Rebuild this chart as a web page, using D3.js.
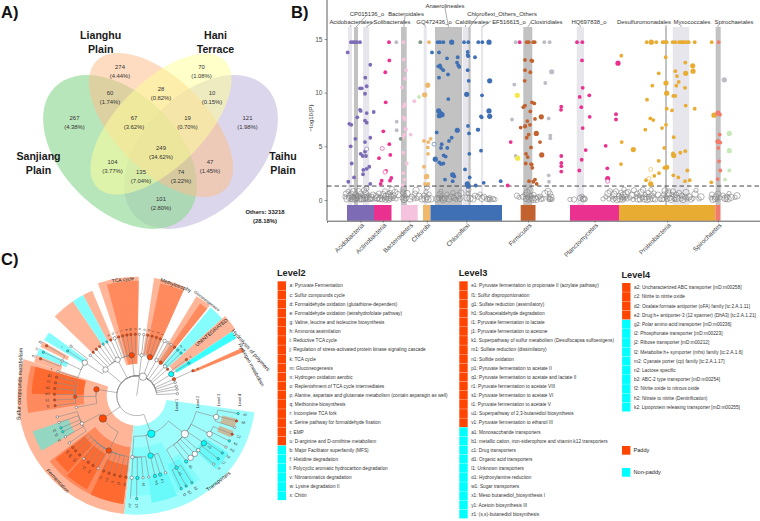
<!DOCTYPE html>
<html><head><meta charset="utf-8">
<script src="https://cdn.jsdelivr.net/npm/d3@7/dist/d3.min.js"></script>
<style>html,body{margin:0;padding:0;background:#fff}svg{display:block;font-family:"Liberation Sans",Arial,sans-serif}</style>
</head><body><svg id="c" width="760" height="521"></svg>
<script>
/* ---------- A) Venn data ---------- */
const vennSets = ["Sanjiang Plain","Taihu Plain","Lianghu Plain","Hani Terrace"];
const vennCounts = [274,70,60,28,10,267,67,19,121,249,104,135,74,47,101];
const vennPercents = ["4.44","1.08","1.74","0.82","0.15","4.38","3.62","0.70","1.98","34.62","3.77","7.04","3.22","1.45","2.80"];
const othersCount = 33218, othersPercent = "28.18";

/* ---------- B) Manhattan data ---------- */
const phyla = ["Acidobacteria","Actinobacteria","Bacteroidetes","Chlorobi","Chloroflexi","Firmicutes","Planctomycetes","Proteobacteria","Spirochaetes"];
const phylaStart = [20,47,74,96,103.5,193.7,243,292,388.3];
const phylaEnd = [47,64.5,90.7,103.5,175,208.5,292,388.3,393.5];
const orders = ["Acidobacteriales","CP015136_o","Solibacterales","Bacteroidales","GQ472436_o","Anaerolineales","Caldilineales","Chloroflexi_Others_Others","EF516615_o","Clostridiales","HQ697838_o","Desulfuromonadales","Myxococcales","Spirochaetales"];
const orderStart = [21,27,36,74,96.7,108,135.7,141.3,154,196.3,249.7,338,345.7,388.7];
const orderEnd = [25,31,42.3,79.7,99.7,135,141.3,143.7,156,205.3,257,340,362.3,393.7];
const orderEnriched = [0,1,0,1,0,1,0,1,0,1,0,1,0,1];
const yTicks = [0,5,10,15];
const threshold = 1.3;

const acidobacteria = [[24,14.7],[26,14.7],[28,14.7],[30,14.7],[33,14.7],[20.7,13.75],[43.3,12.6],[38.3,11.4],[33,10.4],[34.7,10.4],[39.7,10.6],[38,9.9],[33,8.4],[33.7,8.3],[39.7,8.1],[46.7,8.2],[30.3,7.7],[38,7.4],[39.7,7.2],[22.3,7.1],[24.3,7],[28.3,5.7],[43.3,5.8],[38,5.4],[23.7,5],[38,4.5],[33.7,4.3],[35.7,4.1],[39,4.1],[24.7,3.4],[42.3,3.1],[39.7,2.9],[36.3,2.8],[36,2.4],[27,2.1],[21.3,1.7],[43.3,1.5]];
const actinobacteria = [[62,14.7],[62.3,13],[58.3,11.9],[58.7,9.1],[56.3,6.4],[62.3,5.2],[52,3.9],[63.3,4.2],[59,2.7],[64.3,2.05],[63,1.8],[54.7,1.8],[53.7,1.5],[180.7,1.35],[183.7,5.4],[192.7,14.7]];
const bacteroidetes = [[76.3,14.7],[76.7,13.1],[79,12.1],[78,11.3],[75,10.5],[87.3,9.2],[77.7,8.9],[76.7,8.7],[76.7,7.7],[77.7,7.5],[78.3,6.6],[79,6.6],[77.3,6.1],[75.7,5.8],[83.7,6.1],[76.3,4.4],[79.7,3.4],[76.3,2.5],[77.3,1.9],[75.7,1.4]];
const chlorobi = [[102,14.7],[100.7,10.7,1],[97.7,9.8,1],[97,5.5],[101.3,5.4],[103.7,5.7],[100.7,4.9],[101,4.3],[97,3.1],[99.7,2.2,1],[98.7,2.1],[98,1.5],[101.3,1.5]];
const chloroflexi = [[110.7,14.7],[113,14.7],[116.3,14.7],[124.7,14.7,1],[137,14.7],[141.3,14.7],[151.3,14.7],[155.3,14.7],[162,14.7,1],[105,13.75],[112,13.75],[140.7,13.8],[140.7,13.5],[141.3,13.4],[148,13.3],[120,13.2],[130.7,13.3],[130,12.8],[131.3,12.55],[132.3,12.4],[111.3,12.45],[113,12.55],[114,12.3],[116.3,12.1],[140.7,12.1],[121,11.7],[112,11.4],[141.7,11.1],[162.7,11.1,1],[139.7,9.85,1],[155,9.75],[121.3,9.4],[162,8.3,1],[162.7,7.8,1],[111.7,8.3,1],[113.7,8.05,1],[115,7.95,1],[112.3,7.85,1],[154,7.8],[154.7,7.7],[141,6.9],[130.3,6.5,1],[109.7,6.3],[142,6.2],[151.3,6.55],[150.7,6.55],[124.7,5.8],[122,5.5],[114.7,5.2],[114,4.85],[120.3,4.85],[154,4.6],[142.3,4.3],[116.7,4.15],[118.7,4.05],[108.3,3.8,1],[112.3,3.5],[114,3.35],[116.3,3.4],[138,2.85],[125.7,2.35,1],[127.3,2.2],[118,1.9],[142.7,2.1],[125.7,1.75],[173.7,1.75],[156.7,1.6],[140.3,1.5,1],[141.3,1.3,1],[148.7,1.35]];
const firmicutes = [[199.7,14.7],[201.7,14.7],[206.3,14.7],[207.7,14.7],[198,13.05],[205.3,12.95],[204.3,13],[203.3,11.9],[198,12.1],[197.7,11.1],[205,9.1],[198,8.8],[196.3,8.65],[207.3,9],[203.3,8.25],[200.3,7.35],[203,7],[198,6.85],[193.7,6.75],[208,7.55],[214.3,7.75,1],[198.3,6.9],[199.7,5.8],[201.7,6.1],[204,4.9],[199,4.3],[200.7,4],[198.7,3.4],[204,3.35],[205.3,3],[202,1.75],[206.3,1.7],[209.3,6.2,1],[213,5.4],[214.7,4.2,1],[204.7,3.3],[208,1.9],[209.7,1.5]];
const planctomycetes = [[250,14.7],[255.3,14.7],[255,13],[291,12.75,1],[255.7,10.45],[252.7,9.6],[262.3,9.75],[254.3,8.65],[234.3,8.7],[234,8.4],[262.7,7.75],[289,8],[289,7.5],[255.7,6.7],[278.7,5.05],[258.7,4.65],[234.3,4.1],[254.7,3.75],[234.3,3.45],[234.3,3.15],[234.3,2.65],[252.3,2.75],[280.3,2.95],[280.7,2,1]];
const proteobacteria = [[319.7,14.7],[324.3,14.7,1],[329.3,14.7],[335.7,14.7],[337.3,14.7],[339.7,14.7],[345.7,14.7],[348.3,14.7],[352,14.7],[354,14.7],[355.7,14.7],[357.3,14.7],[359.7,14.7],[361.7,14.7],[367.7,14.7],[384.7,14.7],[294.3,13.45],[338.7,13.3],[358.3,12.8],[365.7,12.5,1],[366,12,1],[348.3,12],[358.7,11.8,1],[331.7,11.8],[350,11.55],[351.7,11],[339,10.9,1],[349.3,10.65],[325.3,10.65],[358,10.45],[339.7,9.95,1],[346.3,9.7],[348.3,9.7],[320,9.35],[358.7,8.8],[339.7,8.5],[345,8.35],[367.7,8.5],[323.3,7.6],[326.3,7.45],[387,7.9,1],[339,7],[335,6.7],[318.3,6.55],[346.7,5.85],[294.7,5.4],[306.3,4.7,1],[337.3,4.85],[358.3,4.55],[353.3,4.4],[346,4.35],[346.7,4.15,1],[331.7,3.65],[294,3.35],[337.3,3],[339.7,3.05,1],[360.3,2.75],[332,2.5],[327.3,2.25],[346.3,2.3],[351.3,2.1],[319,1.85],[358,1.75],[362.7,1.85],[384.3,1.65],[323.7,1.5,1]];
const spirochaetes = [[391.7,14.7],[391,8.1,1],[393,7.95],[392.7,6.1],[391,5.45,1],[393.3,5.35],[391.3,4.85],[392,3.6],[393.3,2.75],[390.7,1.95]];
const unassignedGrey = [[188.7,14.7],[187.3,10.75],[185,7.5],[188.7,4.1],[217.3,14.7],[222.7,14.7],[224.7,11.95,1],[218.3,10.9],[221.7,7.6],[223.3,6],[223.3,5.75],[221.7,2.3],[222,1.7],[397.3,11.2,1],[69.3,14.7],[69.7,7.3],[69.7,6.5]];
const unassignedGreen = [[92,9.6],[402.3,6.2,1],[402.3,4.6,1],[402.3,2.75],[398,1.9]];
const unassignedYellow = [[190.3,9.75,1],[190.7,3.9,1]];
const unassignedSage = [[93.3,14.7],[73.7,5.7]];
const openMarks = [[39.7,4.75,0],[55.3,4.8,1],[58,2.6,1],[107,5.2,4],[280.7,1.75,6],[323.7,2.85,7],[322,2,7]];
const nonSignificant = [
[18,0.3],[19,0.6],[20,0.1],[21,0.8],[22,0.2],[23,0.4],[24,0.05],[24.5,0.6],[25,0.25],[26,0.1],[26.5,0.75],[27,0.3],[28,0.05],[28.5,0.5],[29,0.2],[30,0.1],[31,0.35],[31.5,0.8],[32,0.1],[33,0.3],[34,0.05],[34,0.6],[35,0.15],[36,0.4],[36.5,0.05],[37,0.9],[38,0.2],[38.5,0.55],[39,0.05],[39.5,1.1],[40,0.3],[41,0.15],[42,0.45],[43,0.1],[44,0.25],[45,0.05],[46,0.5],
[48,0.1],[49,0.4],[50,0.2],[51,0.05],[52,0.6],[53,0.15],[54,0.3],[55,0.05],[56,0.5],[57,0.2],[58,0.8],[58.5,0.05],[59,0.35],[60,0.15],[61,0.55],[61.5,0.05],[62,0.25],[63,0.7],[63.5,0.1],[64,0.35],[65,0.95],[66,0.15],[67,0.4],[68,0.7],[69,0.1],[71,0.5],
[75,0.2],[76,0.7],[77,0.05],[78,0.4],[76.5,1.0],[79,0.15],[80,0.6],[83,0.1],[85,0.3],[87,0.1],[88,0.6],[90,0.15],[89,0.9],[92,0.35],
[95,0.1],[97,0.4],[98,0.1],[99,0.75],[100,0.25],[101,0.05],[102,0.55],[104,0.1],[100,1.2],
[110,0.1],[112,0.2],[113,0.5],[114,0.8],[115,0.15],[116,0.05],[114,0.3],[118,0.15],[120,0.55],[122,0.1],[124,0.3],[126,0.7],[127,0.2],[129,0.05],[131,0.4],[133,0.1],[134,0.65],
[140,0.2],[141,0.6],[141.5,0.95],[143,0.15],[146,0.1],[148,0.4],[151,0.3],[153,0.55],[155,0.15],[157,0.3],[160,0.1],[162,0.05],[162.5,0.2],[163,0.05],[166,0.1],[168,0.05],
[190,0.4],[192,0.25],[196,0.3],[198,0.5],[199,0.1],[200,0.7],[201,0.25],[202,0.05],[203,0.9],[204,0.4],[205,0.15],[206,0.05],[207,0.5],[208,0.2],[209,0.05],[211,0.25],[213,0.35],[214,0.1],[216,0.1],[218,0.6],[221,0.8],[222,0.05],[222,0.2],[223,0.1],[223,0.6],[224,0.25],[225,0.05],
[243,0.05],[247,0.05],[253,0.2],[255,0.35],[256,0.1],[257,0.1],[258,0.1],[276,0.1],[279,0.3],[281,0.6],[282,0.1],[283,0.8],[285,0.3],[286,0.05],[287,0.55],[288,0.15],[289,0.8],[290,0.05],
[292,0.35],[293,0.1],[294,0.7],[295,0.25],[295.5,0.05],[296,0.45],[297,0.1],[297,1.0],[298,0.3],[299,0.6],[300,0.1],[301,0.75],[303,0.2],[305,0.45],[306,0.05],[307,0.9],[309,0.3],[310,0.6],[311,0.1],[312,0.4],[313,0.05],[314,0.7],[315,0.2],[316,0.95],[317,0.1],[318,0.5],[319,0.25],[320,0.05],[321,0.7],[322,0.3],[323,0.1],[324,0.95],[325,0.4],[326,0.15],[327,0.65],[328,0.05],[331,0.5],
[333,0.05],[335,0.15],[336,0.05],[337,0.5],[338,0.85],[339,0.3],[340,0.1],[341,0.6],[342,0.85],[343,0.2],[344,0.05],[345,0.5],[346,0.8],[347,0.25],[348,0.05],[349,0.5],[350,0.15],[352,0.65],[354,0.1],[355,0.4],[356,0.05],[358,0.3],[359,0.7],[360,0.1],[362,0.3],[364,0.05],[366,0.15],[368,0.55],[369,0.9],[372,0.1],[374,0.3],
[384,0.2],[385,0.5],[386,0.05],[388,0.1],[389,0.3],[390,0.05],[391,0.6],[393,0.2],[396,0.45],[398,0.15],[399,0.05],[400,0.3],[401,0.1],[402,0.6],[404,0.25],[408,0.25],[410,0.4]];

/* ---------- C) Cladogram data: [id, parent, level, angle in degrees, class, size rank, tip label] ---------- */
const cladeTree = [
["R",null,0,18,"w",4,""],
["A","R",1,353,"o",3,""],["B","R",1,7,"w",2,""],["C","R",1,19,"o",3,""],["D","R",1,29,"w",2,""],["E","R",1,36,"o",2,""],["F","R",1,44,"w",2,""],["G","R",1,49.5,"o",1,""],["H","R",1,58,"c",3,""],["I","R",1,66,"o",2,""],
["J1","R",1,71,"w",1,""],["J2","R",1,76.7,"w",1,""],["J3","R",1,81,"w",1,""],["J4","R",1,87,"w",1,""],
["S1","R",1,310,"w",3,""],["S2","R",1,332,"w",3,""],["K","R",1,279,"o",3,""],["L","R",1,236,"o",4,""],["M","R",1,159,"c",4,""],
["a1","S2",2,315,"o",1,""],["a2","S2",2,319,"o",1,""],["a3","S2",2,323,"o",1,""],["a4","S2",2,327,"c",1,""],["a5","S2",2,331,"c",1,""],
["b1","A",2,335,"o",1,"e"],["b2","A",2,339,"w",2,"h"],["b3","A",2,343,"o",1,"i"],["b4","A",2,346.8,"o",1,"j"],["b5","A",2,350.8,"o",1,"k"],["b6","A",2,354.5,"o",1,"m"],["b7","A",2,358.7,"o",1,"n"],
["c1","B",2,2.4,"w",1,"o"],["c2","B",2,6.7,"w",1,"p"],["d1","C",2,10.4,"o",1,"q"],["d2","C",2,14.5,"o",1,"r"],["d3","C",2,18.7,"o",1,"s"],["d4","C",2,22.6,"o",1,"t"],
["e1","D",2,27,"w",2,""],["e2","D",2,30.5,"w",1,""],["e3","E",2,34,"w",1,""],["e4","E",2,38,"o",1,""],["f1","F",2,42,"c",1,"d"],["f2","F",2,46,"c",1,"u"],
["h1","H",2,54,"o",1,"c"],["h2","H",2,58,"c",1,""],["i1","I",2,66,"o",1,"a"],
["s1","S1",2,302.5,"w",3,""],["s2","S1",2,311,"w",1,""],
["s3","s1",3,307,"w",1,""],["s4","s1",3,303,"c",1,"l"],["s5","s1",3,295,"w",1,""],["s6","s1",3,287,"w",1,"f"],
["s7","s5",4,299,"o",1,"d2"],["s8","s5",4,295,"c",1,"l2"],["s9","s5",4,291,"o",1,"e2"],
["k1","K",2,269,"o",2,""],["k2","K",2,259,"w",1,""],
["k3","k1",3,283,"o",1,"g1"],["k4","k1",3,279,"o",1,"e1"],["k5","k1",3,275,"o",1,"h1"],["k6","k1",3,271,"o",1,"m1"],["k7","k1",3,267,"o",1,"k1"],["k8","k1",3,263,"o",1,"f1"],
["l1","L",2,243,"w",2,""],["l2","L",2,207,"o",3,""],
["l3","l1",3,255,"w",1,""],["l4","l1",3,251,"w",1,""],["l5","l1",3,247,"c",1,"z1"],["l6","l1",3,244,"c",1,"y1"],["l7","l1",3,240,"w",1,"x1"],["l8","l1",3,235,"w",1,""],
["m1","l2",3,231,"o",1,"u1"],["m2","l2",3,228,"o",1,"p1"],["m3","l2",3,224,"o",1,"q1"],["m4","l2",3,220,"w",1,""],["m5","l2",3,216,"o",1,"r1"],["m6","l2",3,212,"o",1,"s1"],["m7","l2",3,208,"w",1,""],["m8","l2",3,203.7,"o",1,"t1"],["m9","l2",3,199.6,"o",1,"v1"],["m10","l2",3,195.7,"o",1,"i1"],["m11","l2",3,191.6,"o",1,"j1"],["m12","l2",3,187.6,"o",1,"n1"],
["t1","M",2,184,"w",2,""],["t2","M",2,167,"c",3,""],["t3","M",2,128.5,"w",4,""],
["u1","t1",3,183.5,"w",2,""],["u2","t1",3,179.5,"c",2,""],["u3","t1",3,175.6,"w",1,"a1"],["u4","t1",3,171.6,"w",1,""],["u5","u2",4,180,"c",1,"k2"],["u6","u1",4,183.5,"w",0,"n2"],
["v1","t2",3,167.2,"c",2,"w1"],["v2","t2",3,163.4,"c",2,"b1"],["v3","t2",3,159.5,"w",1,""],
["w1","t3",3,151,"c",2,"c1"],["w2","t3",3,143,"c",2,"d1"],["w3","t3",3,139,"w",3,""],["w4","t3",3,135,"w",3,""],["w5","t3",3,131.5,"w",2,""],["w6","t3",3,125.3,"c",3,"o1"],["w7","t3",3,117.7,"w",3,""],["w8","t3",3,105,"w",3,""],
["x1","w1",4,154.4,"c",1,"f2"],["x2","w1",4,151.3,"c",1,"g2"],["x3","w1",4,147.6,"c",1,"b2"],
["x4","w6",4,131.6,"w",1,"i2"],["x5","w6",4,127.7,"c",1,"j2"],["x6","w6",4,123.8,"c",1,"h2"],
["x7","w7",4,119.9,"w",1,"m2"],["x8","w7",4,116,"c",1,"k3"],["x9","w7",4,112,"o",1,"c2"],
["x10","w8",4,108,"w",1,""],["x11","w8",4,104.2,"o",1,"a2"],["x12","w8",4,100,"c",1,"e2"]
];
/* clade spans: [start deg, end deg, inner ring, outer ring, tone] */
const cladeSpans = [
[186,288,30,119,"oL"],[261,286,53,110,"oM"],[271,286,53,105,"oD"],[187,233,52,109,"oM"],[222,232,66,103,"oD"],[208,221,66,106,"oD"],[187,205,70,109,"oD"],[240,251,72,110,"teal"],
[98,186,30,119,"cL"],[152,184,52,100,"cM"],[158,172,83,108,"cD"],[143,158,72,105,"cM"],[146,156,76,102,"cD"],[122,133,80,108,"cD"],
[341,361,32,119,"oL"],[345,361,32,115,"oM"],[8.4,24,42,119,"oL"],[11.8,24,42,115,"oM"],
[31,39,40,116,"oL"],[34.5,39,40,112,"oM"],[40,48,40,115,"cS"],[48,56,44,119,"oL"],[56,60,46,115,"cB"],[65.6,67.8,62,116,"oM"],
[314,326,62,114,"oL"],[326,332,62,114,"cS"],[332,337,62,114,"oL"],[301,305.8,62,108,"cS"],[297,300,78,108,"oL"],[292,296,76,108,"cS"],[288,292,80,108,"oL"],
[103,108,88,103,"khaki"],[110,114,88,103,"khaki"]
];
const cladeNames = ["TCA cycle","Methylotrophy","Gluconeogenesis","UNINTEGRATED","Hydrolysis of polymers","Hydrogen metabolism","Sulfur compounds metabolism","Fermentation","Transporters"];
const levelNames = ["Level 1","Level 2","Level 3","Level 4"];

const level2Up = ["a: Pyruvate Fermentation","c: Sulfur compounds cycle","d: Formaldehyde oxidation (glutathione-dependent)","e: Formaldehyde oxidation (tetrahydrofolate pathway)","g: Valine, leucine and isoleucine biosynthesis","h: Ammonia assimilation","i: Reductive TCA cycle","j: Regulation of stress-activated protein kinase signaling cascade","k: TCA cycle","m: Gluconeogenesis","n: Hydrogen oxidation aerobic","o: Replenishment of TCA cycle intermediates","p: Alanine, aspartate and glutamate metabolism (contain asparagin as well)","q: Methionine biosynthesis","r: Incomplete TCA fork","s: Serine pathway for formaldehyde fixation","t: EMP","u: D-arginine and D-ornithine metabolism"];
const level2Down = ["b: Major Facilitator superfamily (MFS)","f: Histidine degradation","l: Polycyclic aromatic hydrocarbon degradation","v: Nitroaromatics degradation","w: Lysine degradation II","x: Chitin"];
const level3Up = ["e1: Pyruvate fermentation to propionate II (acrylate pathway)","f1: Sulfur disproportionation","g1: Sulfate reduction (assimilatory)","h1: Sulfoacetaldehyde degradation","i1: Pyruvate fermentation to lactate","j1: Pyruvate fermentation to acetone","k1: Superpathway of sulfur metabolism (Desulfocapsa sulfoexigens)","m1: Sulfate reduction (dissimilatory)","n1: Sulfide oxidation","p1: Pyruvate fermentation to acetate II","q1: Pyruvate fermentation to acetate and lactate II","r1: Pyruvate fermentation to acetate VIII","s1: Pyruvate fermentation to acetate VI","t1: Pyruvate fermentation to acetate V","u1: Superpathway of 2,3-butanediol biosynthesis","v1: Pyruvate fermentation to ethanol III"];
const level3Down = ["a1: Monosaccharide transporters","b1: metallic cation, iron-siderophore and vitamin k12 transporters","c1: Drug transporters","d1: Organic acid transporters","l1: Unknown transporters","o1: Hydroxylamine reduction","w1: Sugar transporters","x1: Meso butanediol_biosynthesis I","y1: Acetoin biosynthesis III","z1: (s,s)-butanediol biosynthesis"];
const level4Up = ["a2: Uncharacterized ABC transporter [mD:m00258]","c2: Nitrite to nitrite oxide","d2: Oxalate:formate antiporter (oFA) family [tc:2.A.1.11]","e2: Drug:h+ antiporter-3 (12 spanner) (DhA3) [tc:2.A.1.21]"];
const level4Down = ["g2: Polar amino acid transporter [mD:m00236]","i2: Phosphonate transporter [mD:m00223]","j2: Ribose transporter [mD:m00212]","l2: Metabolite:h+ symporter (mhs) family [tc:2.A.1.6]","m2: Cyanate porter (cp) family [tc:2.A.1.17]","n2: Lactose specific","b2: ABC-2 type transporter [mD:m00254]","f2: Nitrite oxide to nitrous oxide","h2: Nitrate to nitrite (Denitrification)","k2: Lipoprotein releasing transporter [mD:m00255]"];
const groups = ["Paddy","Non-paddy"];

/* ---------- drawing ---------- */
const svg = d3.select("#c");
function letter(t,x,y){svg.append("text").attr("x",x).attr("y",y).attr("font-size",16.5).attr("font-weight","bold").attr("fill","#111").text(t);}
letter("A)",1,18);letter("B)",291,18);letter("C)",1,265);

/* A */
const vennShapes=[
 {c:[201,152],a:92,b:58,rot:-45,fill:"#c4bbe0",op:.6},
 {c:[120,152],a:92,b:58,rot:45,fill:"#93d998",op:.66},
 {c:[161,125],a:91,b:46,rot:45,fill:"#fbbf8e",op:.55},
 {c:[161,124],a:90,b:43,rot:-45,fill:"#ffff9a",op:.52}];
const gV=svg.append("g");
gV.selectAll("ellipse").data(vennShapes).join("ellipse")
 .attr("rx",d=>d.a).attr("ry",d=>d.b).attr("fill",d=>d.fill).attr("fill-opacity",d=>d.op)
 .attr("transform",d=>`translate(${d.c}) rotate(${d.rot})`);
const vennSpots=[[120,67],[201.5,67],[110,93],[161,88.5],[212,93],[74.5,118],[134,118],[187.5,118],[247.5,118],[161,148],[112.5,162],[141,172],[181,172],[210,162],[161,199]];
vennCounts.forEach((v,i)=>{
 const t=gV.append("text").attr("text-anchor","middle").attr("font-size",5.9).attr("fill","#333");
 t.append("tspan").attr("x",vennSpots[i][0]).attr("y",vennSpots[i][1]+2).text(v);
 t.append("tspan").attr("x",vennSpots[i][0]).attr("y",vennSpots[i][1]+11).text("("+vennPercents[i]+"%)");
});
const setSpots=[[38.5,160],[283,160],[100.7,39],[215.5,39]];
vennSets.forEach((s,i)=>{
 const w=s.split(" ");
 const t=gV.append("text").attr("text-anchor","middle").attr("font-size",10.6).attr("font-weight","bold").attr("fill","#1a1a1a");
 w.forEach((p,j)=>t.append("tspan").attr("x",setSpots[i][0]).attr("y",setSpots[i][1]+j*13.5).text(p));
});
const ot=gV.append("text").attr("text-anchor","middle").attr("font-size",5.9).attr("font-weight","bold").attr("fill","#222");
ot.append("tspan").attr("x",265).attr("y",214).text("Others: "+othersCount);
ot.append("tspan").attr("x",265).attr("y",223).text("("+othersPercent+"%)");

/* B */
const xR=d3.scaleLinear().domain([0,433]).range([327,760]);
const yP=d3.scaleLinear().domain([0,15]).range([200,39]);
const BAND_TOP=27,BAR_TOP=205,BAR_BOT=220.7;
const phylaColors=["#7d6cb5","#ea3190","#f5c3de","#efb86c","#3f6fb4","#c2622f","#ea3190","#e8ac33","#f27c6b"];
const gB=svg.append("g");
orders.forEach((o,i)=>gB.append("rect").attr("x",xR(orderStart[i])).attr("width",xR(orderEnd[i])-xR(orderStart[i])).attr("y",BAND_TOP).attr("height",BAR_TOP-BAND_TOP).attr("fill",orderEnriched[i]?"#c2c2c2":"#e6e6ec"));
phyla.forEach((p,i)=>gB.append("rect").attr("x",xR(phylaStart[i])).attr("width",xR(phylaEnd[i])-xR(phylaStart[i])).attr("y",BAR_TOP).attr("height",BAR_BOT-BAR_TOP).attr("fill",phylaColors[i]));
gB.append("g").selectAll("circle").data(nonSignificant).join("circle")
 .attr("cx",d=>xR(d[0])).attr("cy",d=>yP(d[1])).attr("r",d=>2.2+((d[0]*7)%3)*0.5)
 .attr("fill","none").attr("stroke","#858585").attr("stroke-width",.6);
gB.append("line").attr("x1",327).attr("x2",760).attr("y1",yP(threshold)).attr("y2",yP(threshold)).attr("stroke","#444").attr("stroke-width",1).attr("stroke-dasharray","4.5,3");
function pts(list,color){
 gB.append("g").selectAll("circle").data(list).join("circle")
 .attr("cx",d=>xR(d[0])).attr("cy",d=>yP(d[1])).attr("r",d=>d[2]?2.6:1.9).attr("fill",color);
}
[acidobacteria,actinobacteria,bacteroidetes,chlorobi,chloroflexi,firmicutes,planctomycetes,proteobacteria,spirochaetes].forEach((l,i)=>pts(l,phylaColors[i]));
pts(unassignedGrey,"#bcbcc6");pts(unassignedGreen,"#c7e8b8");pts(unassignedYellow,"#f5e84a");pts(unassignedSage,"#7f9a86");
gB.append("g").selectAll("circle").data(openMarks).join("circle").attr("cx",d=>xR(d[0])).attr("cy",d=>yP(d[1])).attr("r",2).attr("fill","#fff").attr("stroke",d=>phylaColors[d[2]]).attr("stroke-width",.6);
const axY=gB.append("g").attr("transform","translate(327,0)").call(d3.axisLeft(yP).tickValues(yTicks).tickSize(2.5).tickPadding(2));
axY.select(".domain").remove();
axY.selectAll("text").attr("font-size",6.6).attr("fill","#4d4d4d").attr("font-family","Liberation Sans");
axY.selectAll("line").attr("stroke","#555").attr("stroke-width",.6);
gB.append("line").attr("x1",327).attr("x2",327).attr("y1",0).attr("y2",BAR_BOT).attr("stroke","#333").attr("stroke-width",.8);
const mids=phyla.map((p,i)=>(phylaStart[i]+phylaEnd[i])/2);
const axX=gB.append("g").attr("transform",`translate(0,${BAR_BOT})`).call(d3.axisBottom(xR).tickValues(mids).tickFormat((d,i)=>phyla[i]).tickSize(2));
axX.select(".domain").attr("stroke","#333").attr("stroke-width",.8);
axX.selectAll("line").attr("stroke","#555").attr("stroke-width",.6);
axX.selectAll("text").attr("font-size",6.4).attr("fill","#444").attr("font-family","Liberation Sans").attr("text-anchor","end").attr("transform","rotate(-45)").attr("dx","-1").attr("dy","3").attr("y",3);
gB.append("text").attr("transform","translate(313,118) rotate(-90)").attr("text-anchor","middle").attr("font-size",6.2).attr("fill","#333").text("\u2212log10(P)");
const orderLabelPos=[[351,22],[367,13.5],[392,22],[406,13.5],[434,22],[445,5.5],[472,22],[502,13.5],[509,22],[546.5,22],[589,22],[644,22],[692,22],[734,22]];
const leaderFrom=[[351,25],[366,16],[375,21],[405,16],[425,25],[445,8],[465.5,25],[478,16],[491,21],[531,22],[580,25],[666,25],[681,25],[718,25]];
orders.forEach((o,i)=>{
 gB.append("text").attr("x",orderLabelPos[i][0]).attr("y",orderLabelPos[i][1]+2).attr("text-anchor","middle").attr("font-size",5.9).attr("fill","#333").text(o);
 gB.append("line").attr("x1",leaderFrom[i][0]).attr("y1",leaderFrom[i][1]).attr("x2",xR((orderStart[i]+orderEnd[i])/2)).attr("y2",BAND_TOP).attr("stroke","#444").attr("stroke-width",.45);
});

/* C */
const CX=136.7,CY=395.7;
const rL=d3.scaleLinear().domain([0,4]).range([20,103]);
const tones={oL:"#ffb598",oM:"#ff8a5e",oD:"#ff6a30",cL:"#9dfcfc",cM:"#84fcfc",cD:"#68fafa",cS:"#86fdfd",cB:"#3cffff",teal:"#93d6c2",khaki:"#c8bc9c"};
const gC=svg.append("g").attr("transform",`translate(${CX},${CY})`);
const rad=d=>d*Math.PI/180;
const arcG=d3.arc();
gC.selectAll("path.span").data(cladeSpans).join("path").attr("class","span")
 .attr("d",d=>arcG({innerRadius:d[2],outerRadius:d[3],startAngle:rad(d[0]),endAngle:rad(d[1])}))
 .attr("fill",d=>tones[d[4]]);
const pt=(a,r)=>[r*Math.sin(rad(a)),-r*Math.cos(rad(a))];
const unwrap=a=>a<=92?a:a-360;
const byId=new Map(cladeTree.map(n=>[n[0],n]));
const linkPath=n=>{
 const p=d3.path();const par=byId.get(n[1]);
 const rp=rL(par[2]),rc=rL(n[2]);
 const a0=unwrap(n[3]),a1=unwrap(par[3]);
 const s=pt(n[3],rc),m=pt(n[3],rp);
 p.moveTo(s[0],s[1]);p.lineTo(m[0],m[1]);
 p.arc(0,0,rp,rad(a0-90),rad(a1-90),a1<a0);
 return p.toString();
};
gC.selectAll("path.lk").data(cladeTree.filter(n=>n[1])).join("path").attr("class","lk").attr("d",linkPath).attr("fill","none").attr("stroke","#8a8a8a").attr("stroke-width",.6);
gC.append("line").attr("x1",0).attr("y1",0).attr("x2",pt(8,20)[0]).attr("y2",pt(8,20)[1]).attr("stroke","#8a8a8a").attr("stroke-width",.6);
const nodeFill={o:"#ff4500",c:"#00ffff",w:"#ffffff"};
const nodeR=[0,1.2,1.7,2.7,3.7];
gC.selectAll("circle").data(cladeTree.filter(n=>n[5]>0)).join("circle")
 .attr("cx",n=>pt(n[3],rL(n[2]))[0]).attr("cy",n=>pt(n[3],rL(n[2]))[1]).attr("r",n=>nodeR[n[5]])
 .attr("fill",n=>nodeFill[n[4]]).attr("stroke","#4a4a4a").attr("stroke-width",.5);
gC.selectAll("text.tip").data(cladeTree.filter(n=>n[6])).join("text").attr("class","tip")
 .attr("font-size",3.6).attr("fill","#333").attr("text-anchor","middle").attr("dominant-baseline","middle")
 .attr("transform",n=>{const r=rL(n[2])+(n[2]==2?5:7);const q=pt(n[3],r);const rot=n[3]<180?n[3]-90:n[3]+90;return `translate(${q}) rotate(${rot})`;})
 .text(n=>n[6]);
const cladeNameSpots=[[123,280,-7,5],[175.7,285.5,20,5.2],[206.7,301,38,4],[211.7,332.7,-40,5.2],[250.5,350.5,48,5.4],[251,365,61,5],[20,384,-88,5.4],[57.5,481,47,5.2],[218.7,481.5,-38,5.2]];
cladeNames.forEach((t,i)=>{const s=cladeNameSpots[i];svg.append("text").attr("transform",`translate(${s[0]},${s[1]}) rotate(${s[2]})`).attr("text-anchor","middle").attr("dominant-baseline","middle").attr("font-size",s[3]).attr("fill","#222").text(t);});
levelNames.forEach((t,i)=>{const x=CX+rL(i+1);svg.append("text").attr("transform",`translate(${x},${[405,402,400,400][i]}) rotate(-90)`).attr("text-anchor","middle").attr("dominant-baseline","middle").attr("font-size",3.8).attr("fill","#222").text(t);});

/* legends */
function legend(title,x,tY,top,step,up,down){
 const all=up.map(t=>[t,"#ff4500"]).concat(down.map(t=>[t,"#00ffff"]));
 svg.append("text").attr("x",x).attr("y",tY).attr("font-size",9.2).attr("font-weight","bold").attr("fill","#222").text(title);
 const yRow=d3.scaleLinear().domain([0,1]).range([top,top+step]);
 all.forEach((r,i)=>{
  svg.append("rect").attr("x",x+.6).attr("y",yRow(i)).attr("width",8.4).attr("height",step-.3).attr("fill",r[1]);
  svg.append("text").attr("x",x+12.5).attr("y",yRow(i)+step/2+1.6).attr("font-size",4.75).attr("fill","#333").text(r[0]);
 });
}
legend("Level2",277,276,281.3,9.13,level2Up,level2Down);
legend("Level3",458.7,276,281.3,9.13,level3Up,level3Down);
legend("Level4",621.5,278,283,9.2,level4Up,level4Down);
[["#ff4500",446],["#00ffff",468]].forEach((g,i)=>{
 svg.append("rect").attr("x",622).attr("y",g[1]).attr("width",8.4).attr("height",8.7).attr("fill",g[0]);
 svg.append("text").attr("x",633.5).attr("y",g[1]+6.3).attr("font-size",5.6).attr("fill","#222").text(groups[i]);
});
</script></body></html>
